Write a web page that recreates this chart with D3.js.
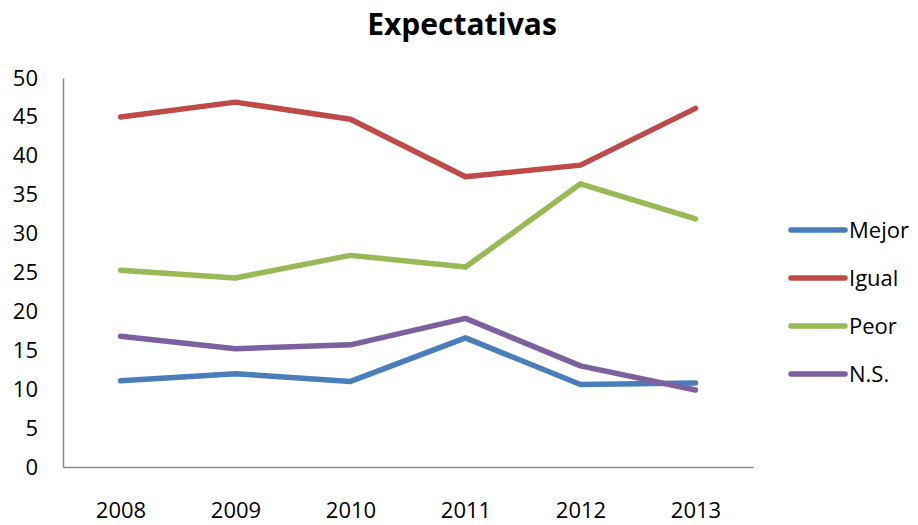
<!DOCTYPE html>
<html>
<head>
<meta charset="utf-8">
<script src="https://cdn.jsdelivr.net/npm/d3@7"></script>
<style>
  body { margin: 0; background: #fff; }
  text { font-family: "Open Sans", "Noto Sans", sans-serif; }
</style>
</head>
<body>
<div id="root"></div>
<script>
// data
const years = ["2008", "2009", "2010", "2011", "2012", "2013"];
const mejor = [11.1, 12.0, 11.0, 16.6, 10.6, 10.8];
const igual = [45.0, 46.9, 44.7, 37.3, 38.8, 46.1];
const peor  = [25.3, 24.3, 27.2, 25.7, 36.4, 31.9];
const ns    = [16.8, 15.2, 15.7, 19.1, 13.0, 9.9];
const seriesNames = ["Mejor", "Igual", "Peor", "N.S."];
const seriesColors = ["#4a7ebb", "#be4b48", "#98b954", "#7d60a0"];
const yTicks = [0, 5, 10, 15, 20, 25, 30, 35, 40, 45, 50];

const width = 918;
const height = 525;

//plot box
const plotLeft = 63, plotRight = 753, plotTop = 78, plotBottom = 467;

const svg = d3.select("#root")
  .append("svg")
  .attr("width", width)
  .attr("height", height)
  .attr("style", "background-color: white;");

const xScale = d3.scalePoint()
  .domain(years)
  .range([plotLeft, plotRight])
  .padding(0.5);

const yScale = d3.scaleLinear()
  .domain([0, 50])
  .range([plotBottom, plotTop]);

//y axis: line only, labels on the left
const yAxis = d3.axisLeft(yScale).tickValues(yTicks).tickSize(0).tickPadding(25);
const gy = svg.append("g")
  .attr("transform", "translate(" + plotLeft + ",0)")
  .call(yAxis);
gy.select(".domain").attr("stroke", "#868686").attr("stroke-width", 1.5);
gy.selectAll("text")
  .style("font-size", "22px")
  .attr("fill", "#000");

//x axis
const xAxis = d3.axisBottom(xScale).tickSize(0).tickPadding(35);
const gx = svg.append("g")
  .attr("transform", "translate(0," + plotBottom + ")")
  .call(xAxis);
gx.select(".domain").attr("stroke", "#868686").attr("stroke-width", 1.5);
gx.selectAll("text")
  .style("font-size", "22px")
  .attr("fill", "#000");

//lines
const allSeries = [mejor, igual, peor, ns];
const line = d3.line()
  .x((d, i) => xScale(years[i]))
  .y(d => yScale(d));

svg.selectAll("path.series")
  .data(allSeries)
  .enter()
  .append("path")
  .attr("class", "series")
  .attr("d", d => line(d))
  .attr("fill", "none")
  .attr("stroke", (d, i) => seriesColors[i])
  .attr("stroke-width", 5.5)
  .attr("stroke-linecap", "round")
  .attr("stroke-linejoin", "round");

//legend
const legend = svg.append("g")
  .attr("transform", "translate(791,230)");
seriesNames.forEach(function(name, i) {
  const row = legend.append("g").attr("transform", "translate(0," + (i * 48) + ")");
  row.append("line")
    .attr("x1", 0).attr("x2", 54)
    .attr("y1", 0).attr("y2", 0)
    .attr("stroke", seriesColors[i])
    .attr("stroke-width", 5.5)
    .attr("stroke-linecap", "round");
  row.append("text")
    .attr("x", 58)
    .attr("y", 8)
    .style("font-size", "22px")
    .text(name);
});

//title
svg.append("text")
  .attr("x", 462)
  .attr("y", 35)
  .attr("text-anchor", "middle")
  .style("font-size", "30px")
  .style("font-weight", "bold")
  .text("Expectativas");
</script>
</body>
</html>
